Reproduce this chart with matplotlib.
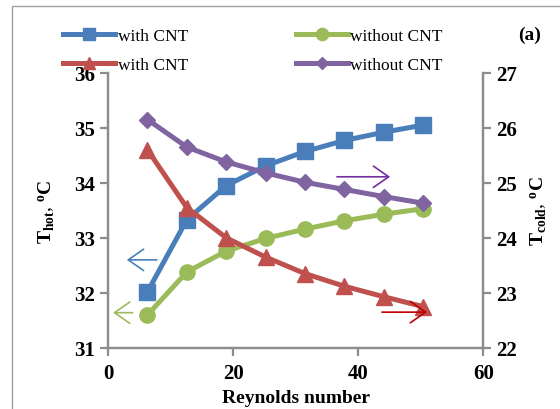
import matplotlib
matplotlib.use("Agg")
import matplotlib.pyplot as plt
from matplotlib.patches import Rectangle

# Reynolds numbers and measured temperatures
reynolds = [6.3, 12.6, 18.9, 25.2, 31.5, 37.8, 44.1, 50.4]
hot_with_cnt = [32.02, 33.33, 33.95, 34.31, 34.57, 34.77, 34.92, 35.05]
hot_without_cnt = [31.60, 32.38, 32.76, 32.99, 33.16, 33.31, 33.43, 33.53]
cold_with_cnt = [25.60, 24.55, 24.00, 23.65, 23.35, 23.12, 22.93, 22.75]
cold_without_cnt = [26.15, 25.65, 25.38, 25.18, 25.01, 24.88, 24.75, 24.63]

xticks = [0, 20, 40, 60]
hot_ticks = [31, 32, 33, 34, 35, 36]
cold_ticks = [22, 23, 24, 25, 26, 27]

# axis pointers: (tail x, head x, y)
arrow_hot_with = (7.8, 3.0, 32.6)
arrow_hot_without = (3.9, 0.8, 31.64)
arrow_cold_without = (36.6, 45.1, 25.11)
arrow_cold_with = (43.8, 51.0, 22.65)

BLUE = "#4A7EBB"
GREEN = "#9BBB59"
RED = "#C0504D"
PURPLE = "#8064A2"
GREY = "#8C8C8C"

plt.rcParams["font.family"] = ["Liberation Serif", "DejaVu Serif"]
plt.rcParams["mathtext.fontset"] = "custom"
plt.rcParams["mathtext.rm"] = "Liberation Serif"
plt.rcParams["mathtext.bf"] = "Liberation Serif:bold"

fig = plt.figure(figsize=(5.6, 4.1), dpi=100)
ax = fig.add_axes([0.193, 0.149, 0.670, 0.671])
ax2 = ax.twinx()

lw = 3.6
l1, = ax.plot(reynolds, hot_with_cnt, color=BLUE, lw=lw, marker="s", ms=11, label="with CNT")
l2, = ax.plot(reynolds, hot_without_cnt, color=GREEN, lw=lw, marker="o", ms=11, label="without CNT")
l3, = ax2.plot(reynolds, cold_with_cnt, color=RED, lw=lw, marker="^", ms=11, label="with CNT")
l4, = ax2.plot(reynolds, cold_without_cnt, color=PURPLE, lw=lw, marker="D", ms=8, label="without CNT")

ax.set_xlim(0, 60)
ax.set_ylim(31, 36)
ax2.set_ylim(22, 27)
ax.set_xticks(xticks)
ax.set_yticks(hot_ticks)
ax2.set_yticks(cold_ticks)

for a in (ax, ax2):
    for s in a.spines.values():
        s.set_color(GREY)
        s.set_linewidth(1.6)
    a.spines["top"].set_visible(False)
    a.tick_params(colors="black", labelsize=15, width=1.6, length=6, direction="out")
    a.tick_params(axis="both", color=GREY)
    for t in a.get_xticklabels() + a.get_yticklabels():
        t.set_fontweight("bold")
ax.tick_params(axis="x", pad=5)

ax.set_xlabel("Reynolds number", fontsize=14, fontweight="bold", labelpad=4)
ax.set_ylabel(r"$\mathbf{T_{hot}}$, $\mathbf{^oC}$", fontsize=14, labelpad=12)
ax2.set_ylabel(r"$\mathbf{T_{cold}}$, $\mathbf{^oC}$", fontsize=14, rotation=90, labelpad=8)

def pointer(a, spec, color):
    x0, x1, y = spec
    a.annotate("", xy=(x1, y), xytext=(x0, y),
               arrowprops=dict(arrowstyle="->,head_length=0.5,head_width=0.35",
                               color=color, lw=1.2, mutation_scale=22,
                               shrinkA=0, shrinkB=0))

pointer(ax, arrow_hot_with, BLUE)
pointer(ax, arrow_hot_without, GREEN)
pointer(ax2, arrow_cold_without, "#7030A0")
pointer(ax2, arrow_cold_with, "#C00000")

fig.legend([l1, l3, l2, l4], [l.get_label() for l in (l1, l3, l2, l4)],
           ncol=2, loc="upper left", bbox_to_anchor=(0.085, 0.967),
           frameon=False, fontsize=12.5, handlelength=3.0, columnspacing=6.2,
           labelspacing=0.7, handletextpad=0.15, markerscale=0.8)

fig.text(0.945, 0.915, "(a)", fontsize=14, fontweight="bold", ha="center", va="center")

# outer chart frame
fig.patches.append(Rectangle((0.022, -0.05), 1.2, 1.033, transform=fig.transFigure,
                             fill=False, edgecolor="#A0A0A0", lw=1.0))

fig.savefig("out.png", dpi=100)
